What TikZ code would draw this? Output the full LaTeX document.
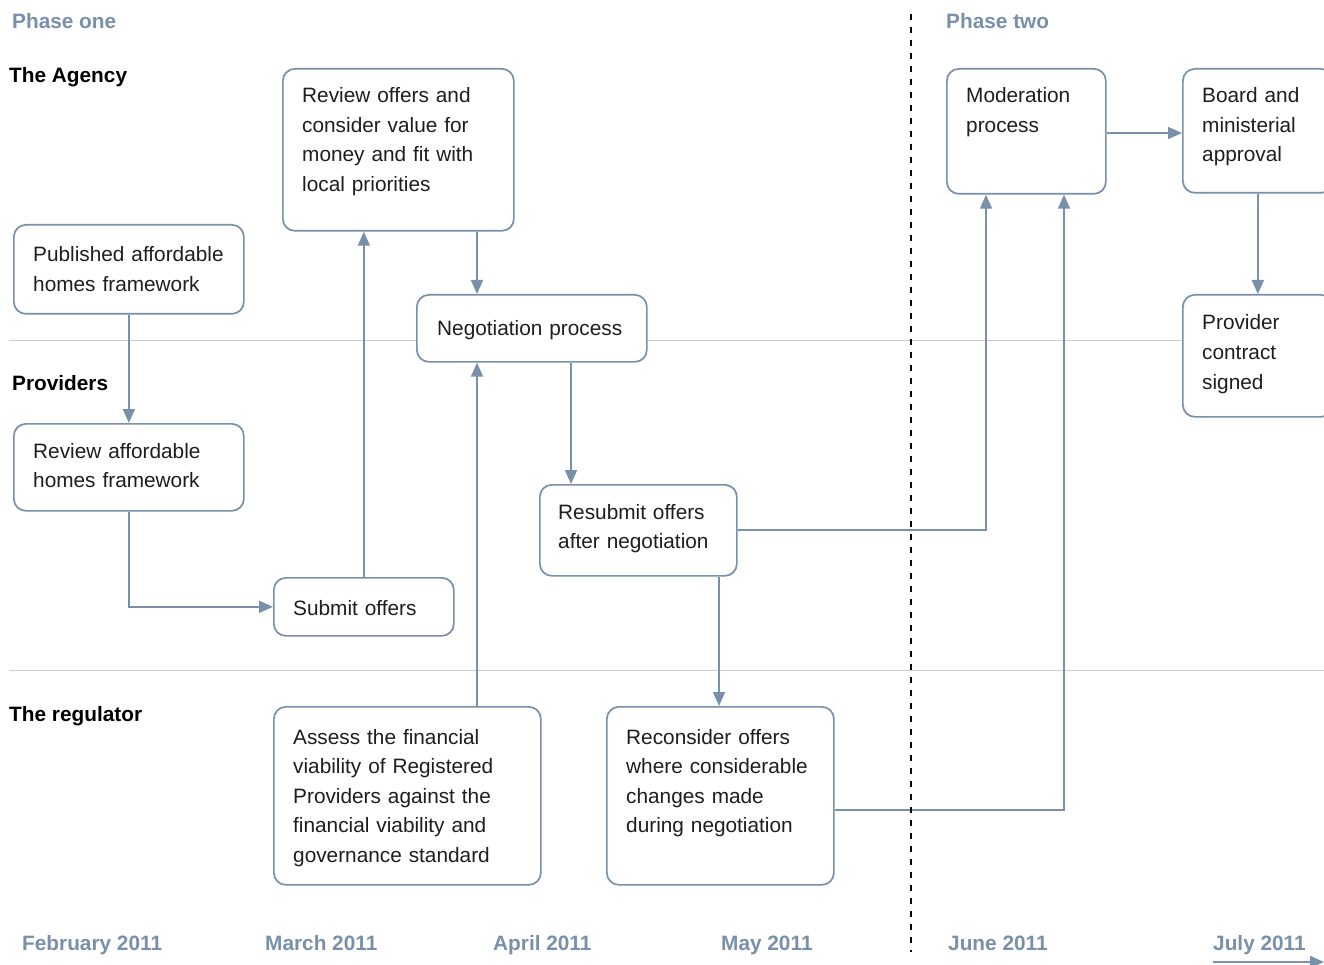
\documentclass[tikz,border=0pt]{standalone}
\usepackage{fontspec}
\setmainfont{Liberation Sans}
\usetikzlibrary{arrows.meta}
\definecolor{bg}{HTML}{7890AA}
\definecolor{gl}{HTML}{CCCCCC}
\definecolor{tx}{HTML}{1E1E1E}
\tikzset{
  box/.style={draw=bg, line width=1.7pt, rounded corners=12pt, fill=white, inner sep=0pt, anchor=north west},
  btext/.style={anchor=base west, inner sep=0pt, text=tx, align=left, text width=#1,
     font=\fontsize{20.8}{29.5}\selectfont},
  btext/.default=300pt,
  lab/.style={anchor=base west, inner sep=0pt, text=black, font=\fontsize{20.8}{25}\selectfont\bfseries},
  phase/.style={anchor=base west, inner sep=0pt, text=bg, font=\fontsize{20.8}{25}\selectfont\bfseries},
  arr/.style={draw=bg, line width=1.8pt, -{Triangle[length=14pt,width=12pt]}},
  grid/.style={draw=gl, line width=1pt},
}
\begin{document}
\begin{tikzpicture}[x=1pt,y=-1pt]
\clip (0,0) rectangle (1324,965);
\fill[white] (0,0) rectangle (1324,965);
% swimlane separators
\coordinate (g1l) at (9,340); \coordinate (g1r) at (1324,340);
\coordinate (g2l) at (9,670); \coordinate (g2r) at (1324,670);
\draw[grid] (g1l) -- (g1r);
\draw[grid] (g2l) -- (g2r);
% helper coordinates
\coordinate (c477) at (477,0);
\coordinate (c571) at (571,0);
\coordinate (c719) at (719,0);
\coordinate (c986) at (986,0);
\coordinate (c1064) at (1064,0);
\coordinate (r810) at (0,810);
\coordinate (r133) at (0,133);
% boxes
\node[box, minimum width=231pt, minimum height=162pt] (revoff) at (282,68) {};
\node[box, minimum width=230pt, minimum height=89pt] (pub) at (13,224) {};
\node[box, minimum width=230pt, minimum height=67pt] (neg) at (416,294) {};
\node[box, minimum width=230pt, minimum height=87pt] (revaff) at (13,423) {};
\node[box, minimum width=180pt, minimum height=58pt] (sub) at (273,577) {};
\node[box, minimum width=197pt, minimum height=91pt] (resub) at (539,484) {};
\node[box, minimum width=267pt, minimum height=178pt] (assess) at (273,706) {};
\node[box, minimum width=227pt, minimum height=178pt] (recon) at (606,706) {};
\node[box, minimum width=159pt, minimum height=125pt] (mod) at (946,68) {};
\node[box, minimum width=150pt, minimum height=124pt] (board) at (1182,68) {};
\node[box, minimum width=150pt, minimum height=122pt] (prov) at (1182,294) {};
% box texts
\node[btext] (trevoff) at (302,103) {Review offers and\\consider value for\\money and fit with\\local priorities};
\node[btext] (tpub) at (33,262) {Published affordable\\homes framework};
\node[btext] (tneg) at (437,335) {Negotiation process};
\node[btext] (trevaff) at (33,458) {Review affordable\\homes framework};
\node[btext] (tsub) at (293,615) {Submit offers};
\node[btext] (tresub) at (558,519) {Resubmit offers\\after negotiation};
\node[btext] (tassess) at (293,744) {Assess the financial\\viability of Registered\\Providers against the\\financial viability and\\governance standard};
\node[btext] (trecon) at (626,744) {Reconsider offers\\where considerable\\changes made\\during negotiation};
\node[btext] (tmod) at (966,103) {Moderation\\process};
\node[btext] (tboard) at (1202,103) {Board and\\ministerial\\approval};
\node[btext] (tprov) at (1202,330) {Provider\\contract\\signed};
% connectors
\draw[arr] (pub.south) -- (revaff.north);
\draw[arr] (revaff.south) |- (sub.west);
\draw[arr] (sub.north) -- (revoff.south -| sub.north);
\draw[arr] (revoff.south -| c477) -- (neg.north -| c477);
\draw[arr] (assess.north -| c477) -- (neg.south -| c477);
\draw[arr] (neg.south -| c571) -- (resub.north -| c571);
\draw[arr] (resub.south -| c719) -- (recon.north -| c719);
\draw[arr] (resub.east) -| (mod.south -| c986);
\draw[arr] (recon.east |- r810) -| (mod.south -| c1064);
\draw[arr] (mod.east |- r133) -- (board.west |- r133);
\draw[arr] (board.south) -- (prov.north);
% phase divider
\coordinate (dtop) at (911,14); \coordinate (dbot) at (911,952);
\draw[black, line width=2pt, dash pattern=on 6pt off 7pt] (dtop) -- (dbot);
% labels
\node[phase] (p1) at (12,29) {Phase one};
\node[phase] (p2) at (946,29) {Phase two};
\node[lab] (lag) at (9,83) {The Agency};
\node[lab] (lpr) at (12,390) {Providers};
\node[lab] (lre) at (9,721) {The regulator};
% timeline
\node[phase] (m1) at (22,950) {February 2011};
\node[phase] (m2) at (265,950) {March 2011};
\node[phase] (m3) at (493,950) {April 2011};
\node[phase] (m4) at (721,950) {May 2011};
\node[phase] (m5) at (948,950) {June 2011};
\node[phase] (m6) at (1213,950) {July 2011};
\coordinate (jl) at (1213,962); \coordinate (jr) at (1324,962);
\draw[arr] (jl) -- (jr);
\end{tikzpicture}
\end{document}
